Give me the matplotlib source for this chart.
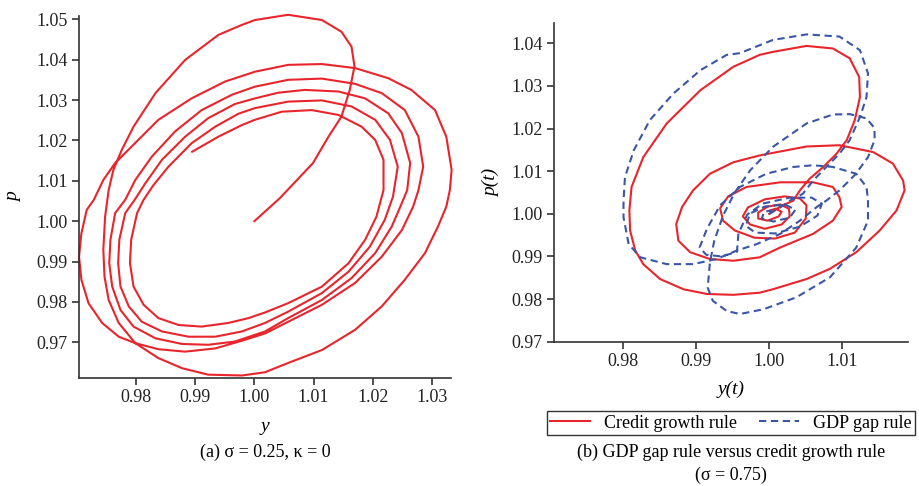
# Phase diagrams: price level vs output, two panels

import matplotlib
matplotlib.use('Agg')
import matplotlib.pyplot as plt

# panel (a): sigma = 0.25, kappa = 0
a_y = [1.0000, 1.0043, 1.0099, 1.0125, 1.0147, 1.0161, 1.0169, 1.0164, 1.0147, 1.0114, 1.0057, 1.0001,
       0.9979, 0.9939, 0.9883, 0.9833, 0.9796, 0.9776, 0.9762, 0.9754,
       0.9748, 0.9745, 0.9747, 0.9754, 0.9771, 0.9799, 0.9838, 0.9878, 0.9922, 0.9979,
       1.0018, 1.0057, 1.0114, 1.0170, 1.0215, 1.0254, 1.0288, 1.0310, 1.0324,
       1.0330, 1.0333, 1.0324, 1.0305, 1.0265, 1.0226, 1.0170, 1.0114, 1.0057, 1.0001,
       0.9951, 0.9894, 0.9838, 0.9793, 0.9765, 0.9745, 0.9729,
       0.9717, 0.9708, 0.9704, 0.9708, 0.9720, 0.9743, 0.9771, 0.9799, 0.9838, 0.9883, 0.9934, 0.9979, 1.0018,
       1.0057, 1.0114, 1.0170, 1.0215, 1.0249, 1.0268, 1.0277, 1.0285, 1.0277, 1.0254, 1.0215, 1.0170, 1.0114, 1.0057, 1.0001,
       0.9962, 0.9911, 0.9866, 0.9827, 0.9799, 0.9782,
       0.9765, 0.9757, 0.9755, 0.9760, 0.9774, 0.9796, 0.9833, 0.9878, 0.9922, 0.9967, 1.0018,
       1.0057, 1.0114, 1.0164, 1.0204, 1.0232, 1.0249, 1.0258, 1.0263, 1.0249, 1.0226, 1.0187, 1.0142, 1.0085, 1.0040, 1.0001,
       0.9967, 0.9922, 0.9883, 0.9844, 0.9816, 0.9798,
       0.9782, 0.9772, 0.9770, 0.9774, 0.9788, 0.9810, 0.9844, 0.9889, 0.9934, 0.9979, 1.0018,
       1.0057, 1.0114, 1.0159, 1.0195, 1.0220, 1.0234, 1.0242, 1.0229, 1.0204, 1.0164, 1.0114, 1.0057, 1.0001,
       0.9973, 0.9934, 0.9894, 0.9855, 0.9830, 0.9813,
       0.9802, 0.9792, 0.9790, 0.9796, 0.9813, 0.9838, 0.9872, 0.9911, 0.9956, 0.9990, 1.0018,
       1.0057, 1.0114, 1.0159, 1.0187, 1.0206, 1.0218, 1.0218, 1.0204, 1.0181, 1.0142, 1.0097, 1.0046, 1.0001,
       0.9979, 0.9939, 0.9895]
a_p = [1.0000, 1.0057, 1.0144, 1.0209, 1.0259, 1.0325, 1.0383, 1.0432, 1.0469, 1.0498, 1.0511, 1.0498,
       1.0486, 1.0461, 1.0399, 1.0317, 1.0234, 1.0176, 1.0127, 1.0077,
       1.0011, 0.9929, 0.9863, 0.9805, 0.9748, 0.9698, 0.9661, 0.9636, 0.9620, 0.9618,
       0.9626, 0.9649, 0.9681, 0.9731, 0.9789, 0.9855, 0.9921, 0.9987, 1.0036,
       1.0077, 1.0127, 1.0209, 1.0275, 1.0325, 1.0354, 1.0379, 1.0389, 1.0387, 1.0370,
       1.0346, 1.0304, 1.0251, 1.0185, 1.0144, 1.0102, 1.0053,
       1.0028, 0.9970, 0.9912, 0.9855, 0.9797, 0.9748, 0.9714, 0.9698, 0.9683, 0.9677, 0.9685, 0.9704, 0.9722,
       0.9751, 0.9793, 0.9847, 0.9912, 0.9978, 1.0036, 1.0077, 1.0135, 1.0209, 1.0275, 1.0317, 1.0340, 1.0353, 1.0350, 1.0333,
       1.0313, 1.0275, 1.0222, 1.0160, 1.0102, 1.0053,
       1.0020, 0.9954, 0.9896, 0.9838, 0.9780, 0.9739, 0.9710, 0.9696, 0.9694, 0.9702, 0.9727,
       0.9760, 0.9805, 0.9859, 0.9921, 0.9987, 1.0045, 1.0077, 1.0144, 1.0218, 1.0267, 1.0304, 1.0321, 1.0325, 1.0318, 1.0304,
       1.0290, 1.0255, 1.0209, 1.0152, 1.0094, 1.0053,
       1.0020, 0.9954, 0.9896, 0.9838, 0.9789, 0.9751, 0.9727, 0.9714, 0.9714, 0.9727, 0.9748,
       0.9776, 0.9822, 0.9875, 0.9937, 1.0003, 1.0061, 1.0135, 1.0201, 1.0251, 1.0284, 1.0299, 1.0296, 1.0280,
       1.0266, 1.0234, 1.0193, 1.0135, 1.0090, 1.0053,
       1.0020, 0.9954, 0.9896, 0.9838, 0.9793, 0.9760, 0.9743, 0.9739, 0.9748, 0.9760, 0.9774,
       0.9797, 0.9838, 0.9896, 0.9954, 1.0011, 1.0077, 1.0152, 1.0201, 1.0234, 1.0263, 1.0275, 1.0271, 1.0251,
       1.0238, 1.0209, 1.0172]

# panel (b): sigma = 0.75, credit growth rule vs GDP gap rule
credit_y = [1.0000, 1.0016, 1.0033, 1.0042, 1.0055, 1.0074, 1.0092, 1.0106, 1.0117, 1.0124, 1.0123, 1.0110,
            1.0087, 1.0051, 1.0005, 0.9987, 0.9951, 0.9906, 0.9860, 0.9828, 0.9812, 0.9809, 0.9810, 0.9817,
            0.9828, 0.9851, 0.9883, 0.9915, 0.9951, 0.9987, 1.0005, 1.0051, 1.0083, 1.0119, 1.0151, 1.0174,
            1.0185, 1.0183, 1.0169, 1.0142, 1.0096, 1.0051, 1.0005, 0.9987, 0.9951, 0.9919, 0.9896, 0.9881,
            0.9873, 0.9876, 0.9892, 0.9919, 0.9951, 0.9987, 1.0015, 1.0060, 1.0087, 1.0099, 1.0096, 1.0087,
            1.0060, 1.0015, 0.9969, 0.9944, 0.9933, 0.9937, 0.9953, 0.9980, 1.0008, 1.0035, 1.0050, 1.0051,
            1.0042, 1.0021, 0.9994, 0.9971, 0.9964, 0.9974, 0.9994, 1.0017, 1.0028, 1.0027, 1.0015, 0.9998,
            0.9985, 0.9985, 0.9998, 1.0013, 1.0017, 1.0009, 1.0001]
credit_p = [1.0000, 1.0018, 1.0031, 1.0055, 1.0082, 1.0110, 1.0141, 1.0173, 1.0220, 1.0274, 1.0321, 1.0365,
            1.0388, 1.0394, 1.0380, 1.0373, 1.0345, 1.0290, 1.0212, 1.0133, 1.0063, 1.0008, 0.9961, 0.9914,
            0.9882, 0.9847, 0.9823, 0.9812, 0.9810, 0.9815, 0.9823, 0.9847, 0.9871, 0.9910, 0.9961, 1.0008,
            1.0055, 1.0078, 1.0118, 1.0145, 1.0161, 1.0158, 1.0143, 1.0137, 1.0121, 1.0094, 1.0055, 1.0016,
            0.9976, 0.9937, 0.9910, 0.9894, 0.9890, 0.9898, 0.9921, 0.9953, 0.9984, 1.0016, 1.0039, 1.0063,
            1.0074, 1.0074, 1.0063, 1.0041, 1.0013, 0.9984, 0.9961, 0.9944, 0.9942, 0.9956, 0.9989, 1.0020,
            1.0036, 1.0041, 1.0034, 1.0015, 0.9994, 0.9975, 0.9965, 0.9975, 0.9994, 1.0012, 1.0022, 1.0017,
            1.0003, 0.9989, 0.9984, 0.9994, 1.0005, 1.0012, 1.0008]

gdp_y = [1.0000, 1.0015, 1.0031, 1.0046, 1.0060, 1.0078, 1.0096, 1.0110, 1.0124, 1.0133, 1.0135, 1.0124,
         1.0096, 1.0051, 1.0005, 0.9960, 0.9942, 0.9906, 0.9869, 0.9837, 0.9815, 0.9803, 0.9801, 0.9801,
         0.9808, 0.9824, 0.9860, 0.9896, 0.9928, 0.9956, 0.9983, 1.0015, 1.0042, 1.0065, 1.0078,
         1.0096, 1.0118, 1.0135, 1.0144, 1.0144, 1.0133, 1.0110, 1.0087, 1.0051, 1.0005, 0.9974, 0.9953,
         0.9937, 0.9925, 0.9919, 0.9916, 0.9923, 0.9942, 0.9960, 0.9992, 1.0037, 1.0083, 1.0119, 1.0135,
         1.0135, 1.0133, 1.0119, 1.0087, 1.0060, 1.0033, 0.9996, 0.9960, 0.9933, 0.9915, 0.9905,
         0.9914, 0.9935, 0.9956, 0.9958, 0.9970, 0.9991, 1.0028, 1.0058, 1.0072, 1.0066, 1.0042, 1.0008,
         0.9981, 0.9968, 0.9974, 0.9994, 1.0021, 1.0036, 1.0028, 1.0006, 0.9990, 0.9993, 1.0004]
gdp_p = [1.0000, 1.0015, 1.0034, 1.0047, 1.0078, 1.0110, 1.0141, 1.0173, 1.0227, 1.0274, 1.0330, 1.0384,
         1.0416, 1.0421, 1.0408, 1.0377, 1.0373, 1.0337, 1.0282, 1.0220, 1.0149, 1.0086, 1.0031, 0.9992,
         0.9929, 0.9898, 0.9882, 0.9882, 0.9894, 0.9914, 0.9929, 0.9953, 0.9984, 1.0016, 1.0031,
         1.0055, 1.0093, 1.0133, 1.0173, 1.0201, 1.0224, 1.0234, 1.0233, 1.0212, 1.0157, 1.0102, 1.0050,
         0.9996, 0.9937, 0.9885, 0.9827, 0.9796, 0.9772, 0.9765, 0.9776, 0.9804, 0.9851, 0.9921, 0.9984,
         1.0031, 1.0063, 1.0094, 1.0110, 1.0114, 1.0110, 1.0094, 1.0063, 1.0020, 0.9965, 0.9921,
         0.9904, 0.9900, 0.9911, 0.9954, 0.9998, 1.0024, 1.0038, 1.0038, 1.0024, 0.9996, 0.9970, 0.9954,
         0.9956, 0.9972, 1.0001, 1.0017, 1.0022, 1.0010, 0.9991, 0.9982, 0.9989, 1.0005, 1.0008]

a_xticks = [0.98, 0.99, 1.00, 1.01, 1.02, 1.03]
a_yticks = [0.97, 0.98, 0.99, 1.00, 1.01, 1.02, 1.03, 1.04, 1.05]
b_xticks = [0.98, 0.99, 1.00, 1.01]
b_yticks = [0.97, 0.98, 0.99, 1.00, 1.01, 1.02, 1.03, 1.04]

RED = '#e8252c'
BLUE = '#3a56a6'
plt.rcParams['font.family'] = ['Liberation Serif', 'DejaVu Serif']

fig = plt.figure(figsize=(9.19, 4.86), dpi=100)
ax1 = fig.add_axes([0.086, 0.2216, 0.4048, 0.7455])
ax2 = fig.add_axes([0.6028, 0.2969, 0.3855, 0.6551])


def style_axis(ax, xticks, yticks):
    for side in ['top', 'right']:
        ax.spines[side].set_visible(False)
    for side in ['left', 'bottom']:
        ax.spines[side].set_linewidth(1.2)
        ax.spines[side].set_color('#333333')
    ax.set_xticks(xticks)
    ax.set_yticks(yticks)
    ax.set_xticklabels(['%.2f' % v for v in xticks])
    ax.set_yticklabels(['%.2f' % v for v in yticks])
    ax.tick_params(direction='out', length=5, width=1.2, color='#333333',
                   labelsize=13, labelcolor='#222222', pad=3)


ax1.plot(a_y, a_p, color=RED, lw=1.5, clip_on=False, solid_joinstyle='round')
ax1.set_xlim(0.9704, 1.0332)
ax1.set_ylim(0.9611, 1.0508)
style_axis(ax1, a_xticks, a_yticks)
ax1.set_xlabel('y', fontsize=14, style='italic', labelpad=8)
ax1.set_ylabel('p', fontsize=14, style='italic', labelpad=10)

l1, = ax2.plot(credit_y, credit_p, color=RED, lw=1.5, label='Credit growth rule',
               clip_on=False, solid_joinstyle='round')
l2, = ax2.plot(gdp_y, gdp_p, color=BLUE, lw=1.5, dashes=(3.5, 2.2), label='GDP gap rule',
               clip_on=False)
ax2.set_xlim(0.9706, 1.019)
ax2.set_ylim(0.97, 1.0447)
style_axis(ax2, b_xticks, b_yticks)
ax2.set_xlabel('y(t)', fontsize=14, style='italic', labelpad=8)
ax2.set_ylabel('p(t)', fontsize=14, style='italic', labelpad=8)

leg = fig.legend(handles=[l1, l2], loc='center', bbox_to_anchor=(0.7955, 0.1295), ncol=2,
                 fontsize=13, frameon=True, fancybox=False, edgecolor='black',
                 handlelength=2.2, columnspacing=1.2, borderpad=0.2, handletextpad=0.8)
leg.get_frame().set_linewidth(1.0)

fig.text(0.2884, 0.069, '(a) σ = 0.25, κ = 0', ha='center', va='center', fontsize=13)
fig.text(0.7955, 0.069, '(b) GDP gap rule versus credit growth rule', ha='center', va='center', fontsize=13)
fig.text(0.7955, 0.022, '(σ = 0.75)', ha='center', va='center', fontsize=13)

fig.savefig('out.png', dpi=100)
